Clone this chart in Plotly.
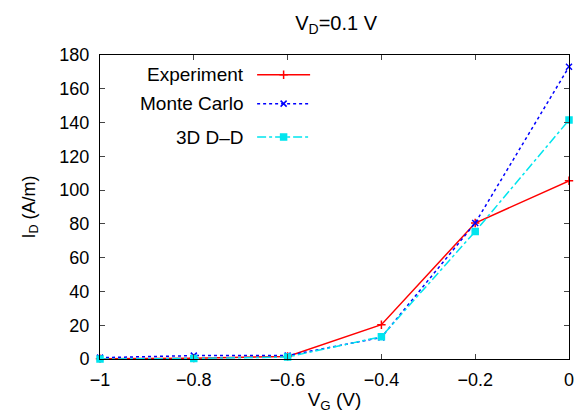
import plotly.graph_objects as go

vg = [-1.0, -0.8, -0.6, -0.4, -0.2, 0.0]
experiment = [0.2, 0.5, 1.5, 20.3, 80.5, 105.5]
monte_carlo = [0.8, 2.0, 2.0, 12.8, 80.5, 173.0]
dd3d = [0.0, 0.3, 1.2, 13.2, 75.5, 141.5]

names = ["Experiment", "Monte Carlo", "3D D\u2013D"]
colors = ["#ff0000", "#0000ff", "#00e5ee"]
dashes = ["solid", "dot", "dashdot"]
symbols = ["cross-thin", "x-thin", "square"]
series = [experiment, monte_carlo, dd3d]

FONT = "Liberation Sans, Arial, Helvetica, sans-serif"

fig = go.Figure()
for name, ys, c, d, s in zip(names, series, colors, dashes, symbols):
    fig.add_trace(go.Scatter(
        x=vg, y=ys, mode="lines+markers", name=name,
        line=dict(color=c, width=1.5, dash=d),
        marker=dict(symbol=s, size=6, color=c, line=dict(color=c, width=1.5)),
        showlegend=False, cliponaxis=False))

# gnuplot-style key (text right, sample to the right)
key_y = [0.935, 0.84, 0.73]
for name, c, d, s, ky in zip(names, colors, dashes, symbols, key_y):
    fig.add_annotation(xref="paper", yref="paper", x=0.312, y=ky, text=name,
                       showarrow=False, xanchor="right", yanchor="middle",
                       font=dict(size=19, color="black", family=FONT))
    fig.add_shape(type="line", xref="paper", yref="paper",
                  x0=0.335, x1=0.448, y0=ky, y1=ky,
                  line=dict(color=c, width=1.5, dash=d))
    fig.add_trace(go.Scatter(x=[0.3915], y=[ky], xaxis="x2", yaxis="y2",
                             mode="markers", showlegend=False, hoverinfo="skip",
                             marker=dict(symbol=s, size=6, color=c,
                                         line=dict(color=c, width=1.5))))

fig.update_layout(
    width=582, height=419,
    margin=dict(l=100, r=8, t=55, b=60),
    plot_bgcolor="white", paper_bgcolor="white",
    font=dict(family=FONT, size=18, color="black"),
    title=dict(text="V<sub>D</sub>=0.1 V", x=0.5775, xanchor="center",
               y=0.945, yanchor="middle", font=dict(size=20)),
    xaxis=dict(range=[-1, 0], dtick=0.2, tick0=-1, ticks="inside", ticklen=5,
               mirror="ticks", showline=True, linecolor="black", linewidth=1,
               showgrid=False, zeroline=False, ticklabelstandoff=4,
               title=dict(text="V<sub>G</sub> (V)", standoff=4, font=dict(size=19))),
    yaxis=dict(range=[0, 180], dtick=20, ticks="inside", ticklen=5,
               mirror="ticks", showline=True, linecolor="black", linewidth=1,
               showgrid=False, zeroline=False, ticklabelstandoff=6,
               title=dict(text="I<sub>D</sub> (A/m)", standoff=19, font=dict(size=18))),
    xaxis2=dict(range=[0, 1], overlaying="x", visible=False, fixedrange=True),
    yaxis2=dict(range=[0, 1], overlaying="y", visible=False, fixedrange=True),
)

fig.write_html("out.html", config={"displayModeBar": False},
               post_script="document.body.style.margin='0';document.body.style.overflow='hidden';")
